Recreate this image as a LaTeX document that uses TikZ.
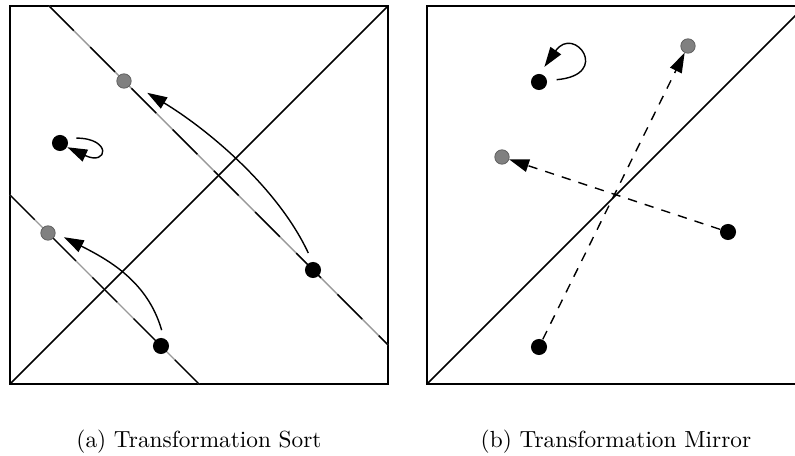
\documentclass[tikz,border=0pt]{standalone}
\usetikzlibrary{arrows.meta}

\begin{document}
\begin{tikzpicture}[x=0.429pt, y=0.429pt,
    dotb/.style={circle, fill=black, inner sep=0pt, minimum size=6.9pt},
    dotg/.style={circle, fill=black!50, draw=black!65, line width=0.3pt,
                 inner sep=0pt, minimum size=6.2pt},
    frame/.style={line width=0.6pt},
    axis/.style={line width=0.7pt},
    orbit/.style={line width=0.6pt, draw=black!40},
    orbitdash/.style={line width=0.6pt, dash pattern=on 15pt off 10pt},
    move/.style={line width=0.6pt, -{Triangle[length=8.5pt,width=5.5pt]}},
    flip/.style={move, dash pattern=on 4pt off 3.5pt}
  ]
  \clip (0,0) rectangle (795,456);
  % (a) sort
  \draw[frame] (10,72) rectangle (388,450);
  \draw[axis] (10,72) -- (388,450);
  \draw[orbit] (49,450) -- (388,111);
  \draw[orbitdash] (49,450) -- (388,111);
  \draw[orbit] (10,261) -- (199,72);
  \draw[orbitdash] (10,261) -- (199,72);
  \node[dotb] (a1) at (313,186) {};
  \node[dotg] (a1s) at (124,375) {};
  \node[dotb] (a2) at (161,110) {};
  \node[dotg] (a2s) at (48,223) {};
  \node[dotb] (a3) at (60,313) {};
  \draw[move, shorten <=4pt, shorten >=8pt] (a1.95) to[out=115, in=-31, looseness=0.85] (a1s.-17);
  \draw[move, shorten <=3.5pt, shorten >=4pt] (a2.70) to[out=106, in=-27] (a2s.0);
  \draw[move, shorten <=4pt] (a3.35) .. controls +(0:45) and +(-25:45) .. (a3.-30);
  \node[anchor=base] (capa) at (199,8) {(a) Transformation Sort};
  % (b) mirror
  \draw[frame] (427,72) rectangle (805,450);
  \draw[axis] (427,72) -- (805,450);
  \node[dotb] (b1) at (539,109) {};
  \node[dotg] (b1s) at (688,410) {};
  \node[dotb] (b2) at (728,224) {};
  \node[dotg] (b2s) at (502,299) {};
  \node[dotb] (b3) at (539,374) {};
  \draw[flip] (b1) -- (b1s);
  \draw[flip] (b2) -- (b2s);
  \draw[move, shorten <=4pt, shorten >=3.5pt] (b3.10) .. controls +(5:65) and +(55:60) .. (b3.85);
  \node[anchor=base] (capb) at (616,8) {(b) Transformation Mirror};
\end{tikzpicture}
\end{document}
